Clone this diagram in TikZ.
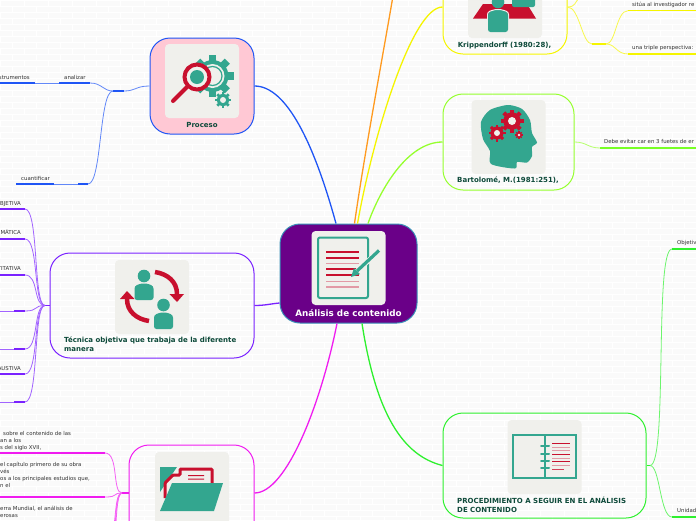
\documentclass[tikz,border=0pt]{standalone}
\usepackage{fontspec}
\setmainfont{DejaVu Sans}
\usetikzlibrary{calc,positioning}
\definecolor{Paper}{HTML}{FAFAFA}
\definecolor{PanelGrey}{HTML}{F0F0EC}
\definecolor{Teal}{HTML}{33A68F}
\definecolor{Crimson}{HTML}{C8102E}
\definecolor{CrimsonLight}{HTML}{E29AA6}
\definecolor{TitleGreen}{HTML}{0E4A3A}
\definecolor{Central}{HTML}{6A0088}
\definecolor{CentralEdge}{HTML}{3A8FB7}
\definecolor{BlueLink}{HTML}{1F55F5}
\definecolor{VioletLink}{HTML}{7A22FF}
\definecolor{PinkLink}{HTML}{F01CF0}
\definecolor{YellowLink}{HTML}{F5F500}
\definecolor{LimeLink}{HTML}{96FF2E}
\definecolor{GreenLink}{HTML}{2EF02E}
\definecolor{OrangeLink}{HTML}{FF9A1F}
\definecolor{LabelGrey}{HTML}{333333}
\definecolor{ProcesoPink}{HTML}{FFC8D4}
\tikzset{
  topicbox/.style={draw=#1,line width=1pt,rounded corners=20pt,inner sep=0pt},
  panelbox/.style={fill=PanelGrey,rounded corners=4pt,minimum size=74pt,inner sep=0pt},
  topictext/.style={font=\fontsize{7}{9}\selectfont\bfseries,text=TitleGreen,inner sep=0pt},
  sublabel/.style={font=\fontsize{5.4}{7}\selectfont,text=LabelGrey,inner sep=0pt},
  thinlink/.style={#1!70,line width=.8pt},
  barlink/.style={#1,line width=1.2pt},
  mainlink/.style={#1,line width=1.3pt}
}
\newcommand{\cogwheel}[5]{%
  \fill[#5] (#1,#2) circle (#3*0.76);
  \foreach \a in {0,45,...,315}{\fill[#5,rotate around={\a:(#1,#2)}] (#1-#3*0.17,#2) rectangle (#1+#3*0.17,#2+#3);}
  \fill[PanelGrey] (#1,#2) circle (#4);
}
\newcommand{\personicon}[2]{%
  \fill[Teal] (#1,#2-12) circle (6.3);
  \fill[Teal,rounded corners=2.5pt] (#1-9.5,#2+12) -- (#1-9.5,#2-2) -- (#1-3,#2-4.5) -- (#1+3,#2-4.5) -- (#1+9.5,#2-2) -- (#1+9.5,#2+12) -- cycle;
}
\begin{document}
\begin{tikzpicture}[x=1pt,y=-1pt]
  \clip (0,0) rectangle (696,520);
  \fill[Paper] (0,0) rectangle (696,520);
  % bricks
  \foreach \r in {0,...,87}{
    \pgfmathsetmacro{\yy}{\r*6}
    \draw[white,line width=.8pt] (0,\yy) -- (696,\yy);
    \pgfmathsetmacro{\off}{mod(\r,2)*12}
    \foreach \c in {0,...,28}{\draw[white,line width=.8pt] (\off+\c*24,\yy) -- (\off+\c*24,\yy+6);}
  }

  % topics
  \node[topicbox=CentralEdge,fill=Central,minimum width=137pt,minimum height=99pt] (central) at (348.5,273.5) {};
  \node[topicbox=BlueLink,fill=ProcesoPink,minimum width=104pt,minimum height=96pt] (proceso) at (202,86) {};
  \node[topicbox=VioletLink,minimum width=204pt,minimum height=105pt] (tecnica) at (152,305.5) {};
  \node[topicbox=PinkLink,minimum width=125pt,minimum height=96pt] (archivo) at (191.5,493) {};
  \node[topicbox=YellowLink,minimum width=124pt,minimum height=94pt] (krippen) at (505,7) {};
  \node[topicbox=LimeLink,minimum width=131pt,minimum height=96pt] (bartolome) at (508.5,142) {};
  \node[topicbox=GreenLink,minimum width=203pt,minimum height=105pt] (procedimiento) at (544.5,465.5) {};

  % attachment points on the central topic
  \coordinate (cenBlue) at ([xshift=-12.5pt]central.north);
  \coordinate (cenOrange) at ([xshift=6pt]central.north);
  \coordinate (cenYellow) at ([xshift=9pt]central.north);
  \coordinate (cenLime) at ([xshift=19.5pt]central.north);
  \coordinate (cenPink) at ([xshift=-11.5pt]central.south);
  \coordinate (cenGreen) at ([xshift=13.5pt]central.south);
  \coordinate (cenViolet) at ([yshift=-29.5pt]central.west);
  \coordinate (orangeEnd) at (393,-4);

  \draw[mainlink=BlueLink] (proceso.east) .. controls +(32,0) and +(-22,-80) .. (cenBlue);
  \draw[mainlink=VioletLink] (tecnica.east) .. controls +(10,0) and +(-10,1) .. (cenViolet);
  \draw[mainlink=PinkLink] (archivo.east) .. controls +(32,0) and +(-16,80) .. (cenPink);
  \draw[mainlink=OrangeLink] (cenOrange) .. controls +(10,-70) and +(-12,70) .. (orangeEnd);
  \draw[mainlink=YellowLink] (cenYellow) .. controls +(16,-90) and +(-30,0) .. (krippen.west);
  \draw[mainlink=LimeLink] (cenLime) .. controls +(12,-34) and +(-35,0) .. (bartolome.west);
  \draw[mainlink=GreenLink] (cenGreen) .. controls +(14,90) and +(-40,-10) .. (procedimiento.west);

  % proceso branch
  \coordinate (proHubL) at (113,91);
  \coordinate (proHubR) at (124,91);
  \coordinate (anaA) at (59,83);
  \coordinate (anaB) at (90,83);
  \coordinate (insA) at (-2,83);
  \coordinate (insB) at (35,83);
  \coordinate (cuaA) at (16,184);
  \coordinate (cuaB) at (54,184);
  \coordinate (cuaC) at (78,184);
  \coordinate (cuaD) at (88,184);
  \draw[thinlink=BlueLink] (proceso.west) .. controls +(-14,0) and +(12,0) .. (proHubR);
  \draw[barlink=BlueLink] (proHubL) -- (proHubR);
  \draw[barlink=BlueLink] (anaA) -- (anaB);
  \draw[barlink=BlueLink] (insA) -- (insB);
  \draw[thinlink=BlueLink] (insB) -- (anaA);
  \draw[thinlink=BlueLink] (anaB) .. controls +(12,0) and +(-10,0) .. (proHubL);
  \draw[barlink=BlueLink] (cuaA) -- (cuaB);
  \draw[thinlink=BlueLink] (cuaB) -- (cuaC);
  \draw[barlink=BlueLink] (cuaC) -- (cuaD);
  \draw[thinlink=BlueLink] (cuaD) .. controls +(14,0) and +(-14,0) .. (proHubL);
  \node[sublabel,anchor=base east] (instrumentos) at (30,79) {instrumentos};
  \node[sublabel,anchor=base west] (analizar) at (64,79) {analizar};
  \node[sublabel,anchor=base west] (cuantificar) at (21,180) {cuantificar};

  % tecnica branch
  \coordinate (tecHub) at (45,305.5);
  \draw[barlink=VioletLink] (tecnica.west) -- (tecHub);
  \foreach \i/\yy/\xa in {1/209/-2,2/239/-2,3/275/-2,4/311/14,5/349/14,6/374/-2,7/402/14}{
    \coordinate (tec\i a) at (\xa,\yy);
    \coordinate (tec\i b) at (25,\yy);
    \coordinate (tec\i o) at (-2,\yy);
    \draw[thinlink=VioletLink] (tec\i o) -- (tec\i b);
    \draw[barlink=VioletLink] (tec\i a) -- (tec\i b);
    \draw[thinlink=VioletLink] (tec\i b) .. controls +(14,0) and +(-12,0) .. (tecHub);
  }
  \node[sublabel,anchor=base east] (objetiva) at (21,205) {OBJETIVA};
  \node[sublabel,anchor=base east] (sistematica) at (21,234.5) {SISTEMÁTICA};
  \node[sublabel,anchor=base east] (cuantitativa) at (21,270.5) {CUANTITATIVA};
  \node[sublabel,anchor=base east] (exhaustiva) at (21,370.5) {EXHAUSTIVA};

  % archivo branch
  \coordinate (arcHub) at (122,493);
  \draw[barlink=PinkLink] (archivo.west) -- (arcHub);
  \foreach \i/\yy in {1/453,2/497,3/541,4/560,5/590}{
    \coordinate (arc\i a) at (-2,\yy);
    \coordinate (arc\i b) at (105,\yy);
    \draw[barlink=PinkLink] (arc\i a) -- (arc\i b);
    \draw[thinlink=PinkLink] (arc\i b) .. controls +(14,0) and +(-10,0) .. (arcHub);
  }
  \node[sublabel,anchor=north west,align=left] (siglo) at (0,431) {\hspace*{3pt}sobre el contenido de las\\an a los\\s del siglo XVII,};
  \node[sublabel,anchor=north west,align=left] (capitulo) at (0,461.5) {el capítulo primero de su obra\\vés\\os a los principales estudios que,\\n el};
  \node[sublabel,anchor=north west,align=left] (mundial) at (0,505.5) {erra Mundial, el análisis de\\erosas};

  % krippendorff branch
  \coordinate (kriHubL) at (592,44);
  \coordinate (kriHubR) at (606,44);
  \coordinate (kriUp) at (579,-2);
  \coordinate (sitA) at (628,10.7);
  \coordinate (sitB) at (698,10.7);
  \coordinate (triA) at (628,54);
  \coordinate (triB) at (698,54);
  \draw[thinlink=YellowLink] (krippen.east) .. controls +(8,0) and +(-4,4) .. (kriUp);
  \draw[thinlink=YellowLink] (krippen.east) .. controls +(12,0) and +(-10,0) .. (kriHubL);
  \draw[barlink=YellowLink] (kriHubL) -- (kriHubR);
  \draw[thinlink=YellowLink] (kriHubR) .. controls +(10,0) and +(-12,0) .. (sitA);
  \draw[thinlink=YellowLink] (kriHubR) .. controls +(10,0) and +(-12,0) .. (triA);
  \draw[barlink=YellowLink] (sitA) -- (sitB);
  \draw[barlink=YellowLink] (triA) -- (triB);
  \node[sublabel,anchor=base west] (situa) at (632,6.5) {sitúa al investigador re};
  \node[sublabel,anchor=base west] (triple) at (632,49.8) {una triple perspectiva:};

  % bartolome branch
  \coordinate (evitA) at (600,148);
  \coordinate (evitB) at (698,148);
  \draw[thinlink=LimeLink] (bartolome.east) .. controls +(12,0) and +(-12,0) .. (evitA);
  \draw[barlink=LimeLink!80!green] (evitA) -- (evitB);
  \node[sublabel,anchor=base west] (evitar) at (604,143.7) {Debe evitar car en 3 fuetes de er};

  % procedimiento branch
  \coordinate (penHub) at (650,465.5);
  \coordinate (objA) at (672,249);
  \coordinate (objB) at (698,249);
  \coordinate (uniA) at (672,517);
  \coordinate (uniB) at (698,517);
  \draw[barlink=GreenLink] (procedimiento.east) -- (penHub);
  \draw[thinlink=GreenLink] (penHub) .. controls +(18,0) and +(-18,0) .. (objA);
  \draw[thinlink=GreenLink] (penHub) .. controls +(10,0) and +(-12,0) .. (uniA);
  \draw[barlink=GreenLink] (objA) -- (objB);
  \draw[barlink=GreenLink] (uniA) -- (uniB);
  \node[sublabel,anchor=base west] (objetivo) at (677,244.5) {Objetiv};
  \node[sublabel,anchor=base west] (unidad) at (677,512.5) {Unidad};

  % panels
  \node[panelbox] (cenPanel) at (348.5,268) {};
  \node[panelbox] (proPanel) at (202,81) {};
  \node[panelbox] (tecPanel) at (152,297) {};
  \node[panelbox] (arcPanel) at (192,489) {};
  \node[panelbox] (kriPanel) at (505,1) {};
  \node[panelbox] (barPanel) at (508.5,137) {};
  \node[panelbox] (penPanel) at (544.5,457) {};

  % topic titles
  \node[topictext,text=white,font=\fontsize{8.8}{9}\selectfont\bfseries] (cenText) at (348.5,313) {Análisis de contenido};
  \node[topictext] (proText) at (202,124.5) {Proceso};
  \node[topictext,anchor=north west,align=left] (tecText) at (64,336.5) {Técnica objetiva que trabaja de la diferente\\manera};
  \node[topictext] (kriText) at (504.5,45.5) {Krippendorff (1980:28),};
  \node[topictext] (barText) at (508,180.5) {Bartolomé, M.(1981:251),};
  \node[topictext,anchor=north west,align=left] (penText) at (457,496.5) {PROCEDIMIENTO A SEGUIR EN EL ANÁLISIS\\DE CONTENIDO};

  % document icon
  \draw[Teal,line width=2pt,rounded corners=2pt] (318,237.5) rectangle (368,298);
  \foreach \yy/\ww/\col in {252/2/Crimson,257.5/2/Crimson,263/1/CrimsonLight,269/1.4/Crimson,275/1.8/Crimson,281/1/CrimsonLight,287/1.2/CrimsonLight}{\fill[\col] (326,\yy-\ww/2) rectangle (359,\yy+\ww/2);}
  \draw[PanelGrey,line width=5pt] (356,272) -- (379,251);
  \draw[Teal,line width=3.2pt] (357,271) -- (379,250.5);
  \fill[Teal] (351,277) -- (354,268) -- (360,274) -- cycle;

  % magnifier and gears
  \cogwheel{212.5}{76}{21}{12}{Teal}
  \draw[Teal,line width=1.2pt] (212.5,76) circle (9.5);
  \cogwheel{223}{100}{8}{3}{Teal}
  \fill[PanelGrey] (197,77) circle (14);
  \fill[Teal] (197,77) circle (7);
  \draw[Crimson,line width=4pt] (197,77) circle (12.5);
  \draw[Crimson,line width=4pt,line cap=round] (187,87) -- (173,101);

  % people and arrows
  \personicon{144}{288}
  \personicon{163.5}{317}
  \draw[Crimson,line width=4.5pt] (155,272) .. controls (168,274) and (177,282) .. (177,294);
  \fill[Crimson] (169.5,294) -- (184,294) -- (177,302) -- cycle;
  \draw[Crimson,line width=4.5pt] (149,321) .. controls (136,319) and (127,311) .. (127,299);
  \fill[Crimson] (120,299) -- (134.5,299) -- (127,291) -- cycle;

  % folder
  \fill[Teal] (160,467) -- (177,467) -- (160,492) -- cycle;
  \draw[PanelGrey,line width=1.5pt] (160,496) -- (181,466);
  \draw[Crimson,line width=3pt,rounded corners=1pt] (165,498) -- (165,483) -- (173,475) -- (180,475) -- (180,469) -- (212,469) -- (212,483);
  \fill[Crimson] (188,475) rectangle (204,476.2) (188,478.5) rectangle (204,479.7);
  \fill[Teal] (172,483) -- (223,483) -- (214,511) -- (160,511) -- cycle;

  % meeting table
  \fill[Crimson] (483,4) -- (527,4) -- (536,18.5) -- (473,18.5) -- cycle;
  \fill[Teal,rounded corners=2pt] (512,-3) rectangle (535,7);
  \personicon{498}{14}
  \draw[PanelGrey,line width=1pt,rounded corners=2.5pt] (487.5,33) -- (487.5,12) -- (495,9.5) -- (501,9.5) -- (508.5,12) -- (508.5,33);
  \fill[Teal,rounded corners=2.5pt] (488,32) -- (488,13) -- (495,10.5) -- (501,10.5) -- (508,13) -- (508,32) -- cycle;

  % head with gears
  \fill[Teal] plot[smooth cycle,tension=.45] coordinates {(491,164) (490,151) (483,139) (481,122) (490,110) (508,105) (522,109) (530,120) (532,133) (537,142.5) (532,147) (532,156) (527,162.5) (517,162) (515,168.5)};
  \cogwheel{512}{121}{11.5}{4}{Crimson}
  \cogwheel{497}{133}{8.5}{3}{Crimson}
  \cogwheel{519}{135}{3.8}{1.3}{Crimson}

  % notebook
  \draw[Teal,line width=1.3pt] (513,435) rectangle (576,478);
  \draw[Teal,line width=1.3pt] (545,435) -- (545,478);
  \foreach \yy in {446,453.5,460.5,468}{\draw[Teal,line width=2pt,line cap=round] (541,\yy) -- (549,\yy);}
  \foreach \yy/\col in {443/Crimson,447/CrimsonLight,450.5/CrimsonLight,454/Crimson,458/CrimsonLight,461.5/Crimson,465.5/CrimsonLight}{\fill[\col] (552,\yy-.5) rectangle (570,\yy+.5);}
  \fill[Crimson!80] (552,468.5) rectangle (564,469.5);
\end{tikzpicture}
\end{document}
